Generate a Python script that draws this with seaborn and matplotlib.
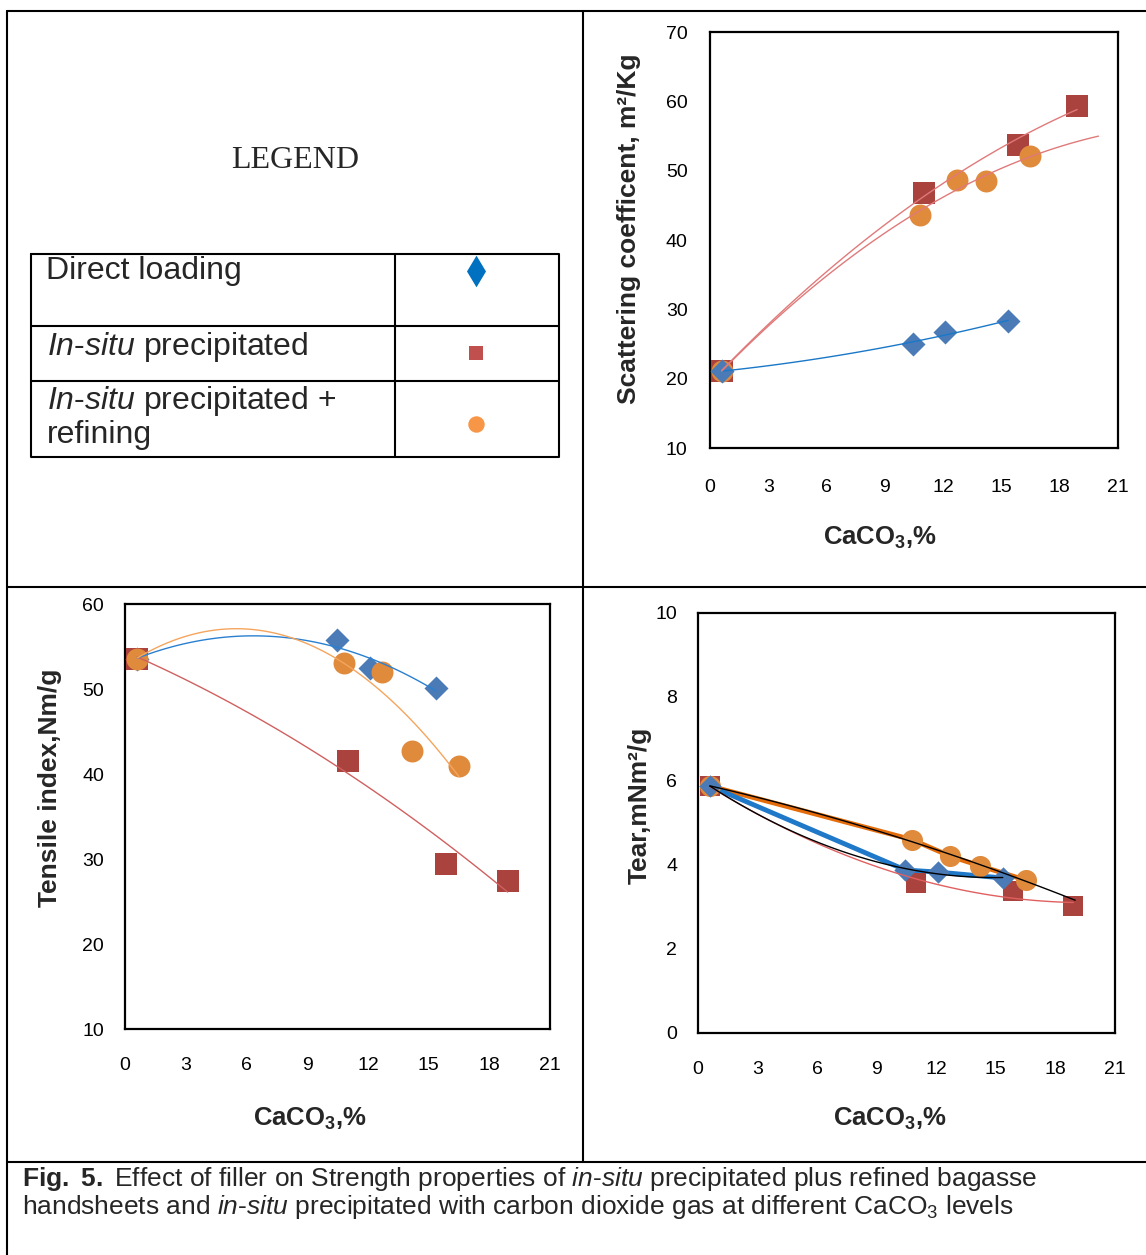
import numpy as np
import matplotlib
matplotlib.use("Agg")
import matplotlib.pyplot as plt
import seaborn as sns

# CaCO3 levels (%) for each treatment
x_direct = [0.6, 10.45, 12.1, 15.35]
x_insitu = [0.6, 11.0, 15.85, 18.9]
x_refine = [0.6, 10.8, 12.7, 14.2, 16.5]

# scattering coefficient, m2/Kg
sc_direct = [21.1, 25.0, 26.7, 28.3]
sc_insitu = [21.1, 46.8, 53.7, 59.3]
sc_refine = [21.1, 43.6, 48.6, 48.5, 52.1]

# tensile index, Nm/g
ts_direct = [53.6, 55.8, 52.5, 50.1]
ts_insitu = [53.6, 41.5, 29.4, 27.4]
ts_refine = [53.6, 53.1, 52.0, 42.7, 40.9]

# tear, mNm2/g
tr_direct = [5.88, 3.88, 3.83, 3.69]
tr_insitu = [5.88, 3.57, 3.38, 3.02]
tr_refine = [5.88, 4.6, 4.21, 3.98, 3.64]

x_ticks = [0, 3, 6, 9, 12, 15, 18, 21]

legend_labels = ["Direct loading",
                 r"$\mathit{In}$-$\mathit{situ}$ precipitated",
                 r"$\mathit{In}$-$\mathit{situ}$ precipitated +" + "\nrefining"]

c_dia = "#4a7bb7"
c_sq = "#aa423e"
c_ci = "#e08a3c"

sns.set_theme(style="white")
plt.rcParams["font.family"] = ["Liberation Sans", "DejaVu Sans"]
plt.rcParams["mathtext.fontset"] = "custom"
plt.rcParams["mathtext.rm"] = "Liberation Sans"
plt.rcParams["mathtext.it"] = "Liberation Sans:italic"
plt.rcParams["mathtext.bf"] = "Liberation Sans:bold"

fig = plt.figure(figsize=(11.46, 12.55), dpi=100)

# background frame / legend table in pixel coords
bg = fig.add_axes([0, 0, 1, 1], zorder=-1)
bg.set_xlim(0, 1146)
bg.set_ylim(1255, 0)
bg.axis("off")
lw_frame = 1.5
bg.plot([7, 1146], [11, 11], color="black", lw=lw_frame)
bg.plot([7, 7], [11, 1255], color="black", lw=lw_frame)
bg.plot([583, 583], [11, 1162], color="black", lw=lw_frame)
bg.plot([7, 1146], [587, 587], color="black", lw=lw_frame)
bg.plot([7, 1146], [1162, 1162], color="black", lw=lw_frame)

bg.text(295, 160, "LEGEND", family="Liberation Serif", fontsize=23,
        ha="center", va="center")
bg.plot([31, 559, 559, 31, 31], [254, 254, 457, 457, 254], color="black", lw=1.5)
bg.plot([395, 395], [254, 457], color="black", lw=1.5)
bg.plot([31, 559], [326, 326], color="black", lw=1.5)
bg.plot([31, 559], [381, 381], color="black", lw=1.5)
bg.text(46, 256, legend_labels[0], fontsize=23, va="top")
bg.text(47, 330, legend_labels[1], fontsize=23, va="top")
bg.text(47, 384, legend_labels[2], fontsize=23, va="top", linespacing=1.1)
bg.scatter([476], [271], marker="d", s=260, color="#0070c0", linewidths=0)
bg.scatter([476], [353], marker="s", s=95, color="#c0504d", linewidths=0)
bg.scatter([476], [424], marker="o", s=140, color="#f79646", linewidths=0)

bg.text(22, 1165, r"$\mathbf{Fig.\ 5.}$ Effect of filler on Strength properties of "
        r"$\mathit{in}$-$\mathit{situ}$ precipitated plus refined bagasse" "\n"
        r"handsheets and $\mathit{in}$-$\mathit{situ}$ precipitated with carbon "
        r"dioxide gas at different CaCO$_3$ levels",
        fontsize=19, va="top", linespacing=1.02)


def markers(ax, order):
    for x, y, m, s, c in order:
        sns.scatterplot(x=x, y=y, marker=m, s=s, color=c, linewidth=0, ax=ax,
                        zorder=3, legend=False)


def trend(ax, x, y, color, lw=1.0, xmax=None):
    kws = dict(color=color, lw=lw, zorder=4)
    if xmax is None:
        sns.regplot(x=x, y=y, order=2, ci=None, scatter=False, truncate=True,
                    line_kws=kws, ax=ax)
    else:
        ax.set_xlim(min(x), xmax)
        sns.regplot(x=x, y=y, order=2, ci=None, scatter=False, truncate=False,
                    line_kws=kws, ax=ax)


def style(ax, ylim, yticks, ylabel, xlab_pos, ylab_pos, ticks_out=False):
    ax.set_xlim(0, 21)
    ax.set_ylim(*ylim)
    ax.set_xticks(x_ticks)
    ax.set_yticks(yticks)
    for sp in ax.spines.values():
        sp.set_visible(True)
        sp.set_color("black")
        sp.set_linewidth(1.6)
    ax.tick_params(labelsize=14, length=5 if ticks_out else 0, width=1,
                   direction="out", colors="black")
    ax.tick_params(axis="x", pad=17 if ticks_out else 20)
    ax.tick_params(axis="y", pad=11 if ticks_out else 15)
    ax.set_xlabel(r"CaCO$_\mathbf{3}$,%", fontsize=18.5, fontweight="bold")
    ax.set_ylabel(ylabel, fontsize=19, fontweight="bold")
    ax.xaxis.set_label_coords(*xlab_pos)
    ax.yaxis.set_label_coords(*ylab_pos)


# Scattering coefficient
ax1 = fig.add_axes([0.6195, 0.643, 0.356, 0.3315])
markers(ax1, [(x_insitu, sc_insitu, "s", 230, c_sq),
              (x_refine, sc_refine, "o", 250, c_ci),
              (x_direct, sc_direct, "D", 150, c_dia)])
trend(ax1, x_direct, sc_direct, "#1a78c8")
trend(ax1, x_insitu, sc_insitu, "#e07a7a")
trend(ax1, x_refine, sc_refine, "#e07a7a", xmax=20)
style(ax1, (10, 70), range(10, 71, 10), "Scattering coefficent, m²/Kg",
      (0.417, -0.185), (-0.17, 0.526), ticks_out=True)

# Tensile index
ax2 = fig.add_axes([0.1091, 0.180, 0.3709, 0.3386])
markers(ax2, [(x_direct, ts_direct, "D", 150, c_dia),
              (x_insitu, ts_insitu, "s", 230, c_sq),
              (x_refine, ts_refine, "o", 250, c_ci)])
trend(ax2, x_direct, ts_direct, "#2a80d0")
trend(ax2, x_insitu, ts_insitu, "#d06060")
trend(ax2, x_refine, ts_refine, "#f5a55e")
style(ax2, (10, 60), range(10, 61, 10), "Tensile index,Nm/g",
      (0.435, -0.18), (-0.148, 0.568))

# Tear
ax3 = fig.add_axes([0.609, 0.1769, 0.3639, 0.3347])
sns.lineplot(x=x_refine, y=tr_refine, sort=False, estimator=None, color="#e46c0a",
             lw=3.5, ax=ax3, zorder=2)
sns.lineplot(x=x_direct, y=tr_direct, sort=False, estimator=None, color="#1f78c8",
             lw=3.5, ax=ax3, zorder=2)
markers(ax3, [(x_insitu, tr_insitu, "s", 220, c_sq),
              (x_refine, tr_refine, "o", 230, c_ci),
              (x_direct, tr_direct, "D", 130, c_dia)])
trend(ax3, x_insitu, tr_insitu, "#e06060")
trend(ax3, x_direct, tr_direct, "black")
trend(ax3, x_refine, tr_refine, "black", xmax=19.0)
style(ax3, (0, 10), range(0, 11, 2), "Tear,mNm²/g",
      (0.46, -0.173), (-0.11, 0.543))

fig.savefig("out.png", dpi=100)
